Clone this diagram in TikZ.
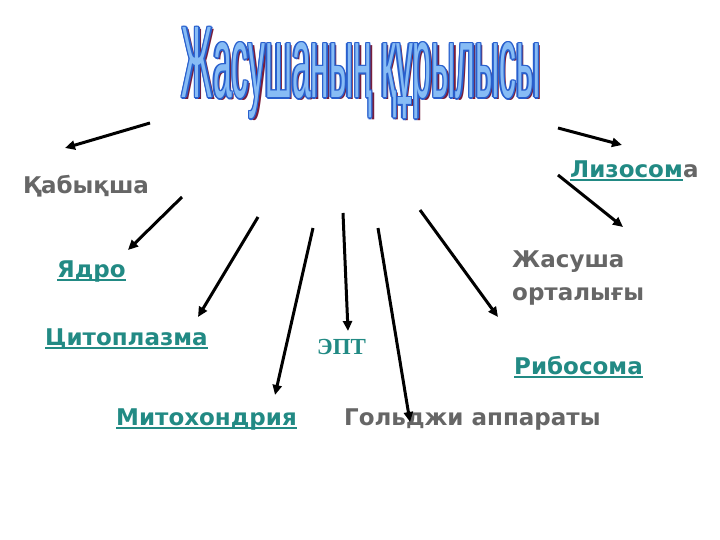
\documentclass[tikz,border=0pt]{standalone}
\usepackage{fontspec}
\usepackage{graphicx}
\setmainfont{DejaVu Sans}
\newfontfamily\ttlfont{Liberation Sans}
\newfontfamily\serf{Liberation Serif}
\usetikzlibrary{arrows.meta}
\definecolor{tealc}{RGB}{34,138,132}
\definecolor{greyc}{RGB}{102,102,102}
\definecolor{shadowc}{RGB}{120,30,60}
\definecolor{edgec}{RGB}{40,95,205}
\definecolor{fillc}{RGB}{135,188,245}
\newcommand\ulin[1]{\setbox0\hbox{#1}\rlap{\rule[-3.5pt]{\wd0}{2pt}}\box0}
\newcommand\ttltext{\scalebox{0.329}[1]{\fontsize{102}{102}\selectfont\ttlfont Жасушаның құрылысы}}
\tikzset{
  lbl/.style={inner sep=0pt, anchor=base west, font=\fontsize{23}{27}\selectfont\bfseries},
  tl/.style={lbl, text=tealc},
  gl/.style={lbl, text=greyc},
  ttl/.style={inner sep=0pt, anchor=base},
  arr/.style={line width=3pt, -{Triangle[length=10pt,width=9pt]}, black},
}
\begin{document}
\begin{tikzpicture}[x=1pt,y=-1pt]
\useasboundingbox (0,0) rectangle (720,540);
% title
\node[ttl, text=shadowc] (tshadow) at (363.5,100) {\ttltext};
\foreach \dx/\dy [count=\i] in {-1.4/0,1.4/0,0/-1.4,0/1.4,-1/-1,1/1,-1/1,1/-1}
  \node[ttl, text=edgec] (tedge\i) at (361+\dx,98+\dy) {\ttltext};
\node[ttl, text=fillc] (title) at (361,98) {\ttltext};
% labels
\node[gl] (kab) at (23,194) {Қабықша};
\node[tl] (yad) at (57,277) {\ulin{Ядро}};
\node[tl] (cyt) at (45,345) {\ulin{Цитоплазма}};
\node[tl] (mit) at (116,425) {\ulin{Митохондрия}};
\node[inner sep=0pt, anchor=base west, text=tealc, font=\fontsize{23}{27}\selectfont\serf\bfseries] (ept) at (317,354) {ЭПТ};
\node[gl] (golg) at (344,425) {Гольджи аппараты};
\node[tl] (ribo) at (514,374) {\ulin{Рибосома}};
\node[gl] (zh1) at (512,267) {Жасуша};
\node[gl] (zh2) at (512,300) {орталығы};
\node[tl] (liz) at (570,178) {\ulin{Лизосом}};
\node[gl, anchor=base west] (liza) at (liz.base east) {а};
% arrow coordinates
\coordinate (s1) at (150,123); \coordinate (e1) at (65,148);
\coordinate (s2) at (182,197); \coordinate (e2) at (128,250);
\coordinate (s3) at (258,217); \coordinate (e3) at (198,317);
\coordinate (s4) at (313,228); \coordinate (e4) at (275,395);
\coordinate (s5) at (343,213); \coordinate (e5) at (348,331);
\coordinate (s6) at (378,228); \coordinate (e6) at (410,422);
\coordinate (s7) at (420,210); \coordinate (e7) at (498,317);
\coordinate (s8) at (558,128); \coordinate (e8) at (622,145);
\coordinate (s9) at (558,175); \coordinate (e9) at (623,227);
\foreach \i in {1,...,9} \draw[arr] (s\i) -- (e\i);
\end{tikzpicture}
\end{document}
